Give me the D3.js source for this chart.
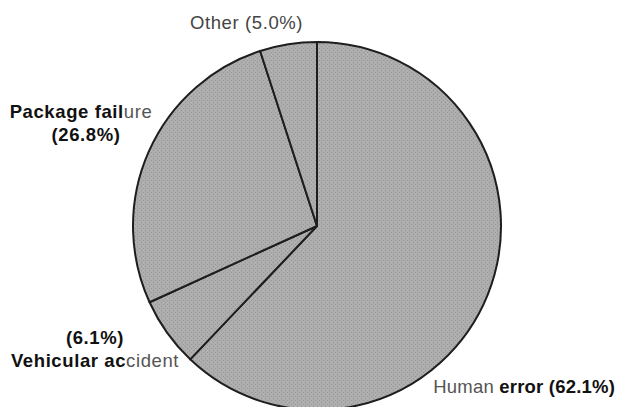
<!DOCTYPE html>
<html>
<head>
<meta charset="utf-8">
<script src="https://cdn.jsdelivr.net/npm/d3@7/dist/d3.min.js"></script>
<style>
  html, body { margin: 0; padding: 0; background: #fff; }
  svg { display: block; }
  text { font-family: "Liberation Sans", Arial, Helvetica, sans-serif; font-size: 18.5px; letter-spacing: 0.6px; }
  text.tight { letter-spacing: 0.2px; }
</style>
</head>
<body>
<svg id="chart" width="620" height="407"></svg>
<script>
// Data
const categories = ["Human error", "Vehicular accident", "Package failure", "Other"];
const values = [62.1, 6.1, 26.8, 5.0];
const valueLabels = ["(62.1%)", "(6.1%)", "(26.8%)", "(5.0%)"];

const W = 620, H = 407;
const cx = 317, cy = 226, R = 184;

const svg = d3.select("#chart");

// Stipple texture
const defs = svg.append("defs");
const pat = defs.append("pattern")
  .attr("id", "stipple").attr("patternUnits", "userSpaceOnUse")
  .attr("width", 4).attr("height", 4);
pat.append("rect").attr("width", 4).attr("height", 4).attr("fill", "#adadad");
pat.append("rect").attr("x", 0).attr("y", 0).attr("width", 1).attr("height", 1).attr("fill", "#949494");
pat.append("rect").attr("x", 2).attr("y", 2).attr("width", 1).attr("height", 1).attr("fill", "#979797");
pat.append("rect").attr("x", 2).attr("y", 0).attr("width", 1).attr("height", 1).attr("fill", "#b8b8b8");

const pie = d3.pie().sort(null).value(d => d.v).startAngle(0).endAngle(2 * Math.PI);
const arcs = pie(categories.map((c, i) => ({ c, v: values[i] })));
const arc = d3.arc().innerRadius(0).outerRadius(R);

const g = svg.append("g").attr("transform", `translate(${cx},${cy})`);
g.selectAll("path.slice").data(arcs).enter().append("path")
  .attr("class", "slice")
  .attr("d", arc)
  .attr("fill", "url(#stipple)")
  .attr("stroke", "#1e1e1e")
  .attr("stroke-width", 2)
  .attr("stroke-linejoin", "round");

// Labels (layout positions)
const dark = "#111", gray = "#555";
function label(x, y, anchor, parts, cls) {
  const t = svg.append("text").attr("x", x).attr("y", y).attr("text-anchor", anchor);
  if (cls) t.attr("class", cls);
  parts.forEach(p => {
    t.append("tspan").text(p[0]).attr("fill", p[1]).attr("font-weight", p[2] ? "bold" : "normal");
  });
}
// Package failure
label(81, 118, "middle", [[categories[2].slice(0, 12), dark, true], [categories[2].slice(12), gray, false]]);
label(86, 141, "middle", [[valueLabels[2], dark, true]]);
// Other
label(190, 29, "start", [[categories[3] + " " + valueLabels[3], "#444", false]]);
// Vehicular accident
label(95, 344, "middle", [[valueLabels[1], dark, true]]);
label(95, 367, "middle", [[categories[1].slice(0, 12), dark, true], [categories[1].slice(12), gray, false]]);
// Human error
label(615, 393, "end", [[categories[0].slice(0, 6), gray, false], [categories[0].slice(6) + " " + valueLabels[0], dark, true]], "tight");
</script>
</body>
</html>
